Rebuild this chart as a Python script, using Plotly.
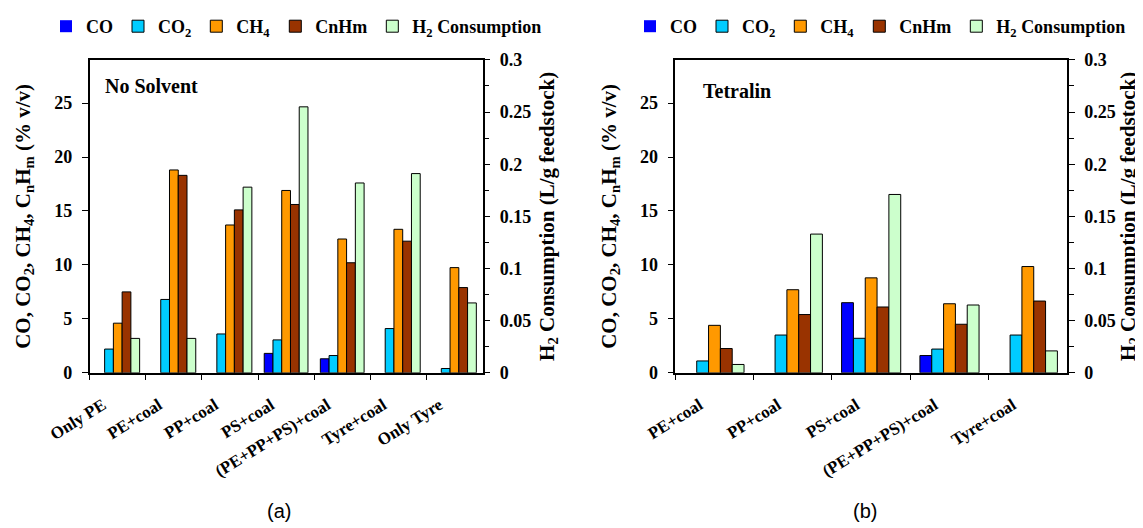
import plotly.graph_objects as go

# ---------------- data ----------------
series_names = ["CO", "CO<sub>2</sub>", "CH<sub>4</sub>", "CnHm", "H<sub>2</sub> Consumption"]
series_colors = ["#0000FF", "#00CCFF", "#FF9900", "#993300", "#CCFFCC"]

cats_a = ["Only PE", "PE+coal", "PP+coal", "PS+coal", "(PE+PP+PS)+coal", "Tyre+coal", "Only Tyre"]
co_a = [0, 0, 0, 1.8, 1.3, 0, 0]
co2_a = [2.2, 6.8, 3.6, 3.05, 1.6, 4.1, 0.4]
ch4_a = [4.6, 18.8, 13.7, 16.9, 12.4, 13.3, 9.75]
cnhm_a = [7.5, 18.3, 15.1, 15.6, 10.2, 12.2, 7.9]
h2_a = [0.033, 0.033, 0.178, 0.255, 0.182, 0.191, 0.067]

cats_b = ["PE+coal", "PP+coal", "PS+coal", "(PE+PP+PS)+coal", "Tyre+coal"]
co_b = [0, 0, 6.5, 1.6, 0]
co2_b = [1.1, 3.5, 3.2, 2.2, 3.5]
ch4_b = [4.4, 7.7, 8.8, 6.4, 9.85]
cnhm_b = [2.25, 5.4, 6.1, 4.5, 6.65]
h2_b = [0.008, 0.133, 0.171, 0.065, 0.021]

left_ticks = [0, 5, 10, 15, 20, 25]
right_ticks = [0, 0.05, 0.1, 0.15, 0.2, 0.25, 0.3]

# ---------------- layout helpers ----------------
W, H = 1143, 528
SERIF = "Liberation Serif"

def px_x(p):
    return p / W

def px_y(p):
    return 1 - p / H

fig = go.Figure()

def add_panel(cats, series, xa, ya, ya2, legend, width):
    offsets = [-2.5 * width + i * width for i in range(5)]
    for i, vals in enumerate(series):
        line_w = [1 if v > 0 else 0 for v in vals]
        fig.add_trace(go.Bar(
            x=cats, y=vals, name=series_names[i],
            marker=dict(color=series_colors[i], line=dict(color="#000000", width=line_w)),
            width=width, offset=offsets[i],
            xaxis=xa, yaxis=(ya2 if i == 4 else ya),
            legend=legend, showlegend=True,
        ))

add_panel(cats_a, [co_a, co2_a, ch4_a, cnhm_a, h2_a], "x", "y", "y2", "legend", 0.156)
add_panel(cats_b, [co_b, co2_b, ch4_b, cnhm_b, h2_b], "x2", "y3", "y4", "legend2", 0.151)

tickfont = dict(family=SERIF, size=18, color="#000000", weight="bold")
xtickfont = dict(family=SERIF, size=17, color="#000000", weight="bold")
titlefont = dict(family=SERIF, size=21, color="#000000", weight="bold")
ydom = [px_y(364.5), px_y(51)]

common_x = dict(type="category", tickson="boundaries", ticks="outside", ticklen=5,
                tickcolor="#000000", showline=True, linecolor="#000000", linewidth=1.5,
                mirror=True, showgrid=False, tickangle=-32, tickfont=xtickfont,
                ticklabelstandoff=14, ticklabelshift=-15, automargin=False)
common_yl = dict(range=[0, 29], tickvals=left_ticks, ticks="outside", ticklen=6,
                 tickcolor="#000000", showline=True, linecolor="#000000", linewidth=1.5,
                 showgrid=False, zeroline=False, tickfont=tickfont, ticklabelstandoff=6,
                 automargin=False,
                 title=dict(text="CO, CO<sub>2</sub>, CH<sub>4</sub>, C<sub>n</sub>H<sub>m</sub> (% v/v)",
                            font=titlefont, standoff=18))

def right_axis(standoff):
    return dict(range=[0, 0.3], tickvals=right_ticks, ticks="outside", ticklen=6,
                tickcolor="#000000", showline=True, linecolor="#000000", linewidth=1.5,
                showgrid=False, zeroline=False, tickfont=tickfont, ticklabelstandoff=6,
                side="right", automargin=False,
                minor=dict(dtick=0.025, ticks="outside", ticklen=5, tickcolor="#000000"),
                title=dict(text="H<sub>2</sub> Consumption (L/g feedstock)",
                           font=titlefont, standoff=standoff))

legend_common = dict(orientation="h", font=dict(family=SERIF, size=18, color="#000000", weight="bold"),
                     yanchor="middle", xanchor="left", bgcolor="rgba(0,0,0,0)",
                     traceorder="normal", itemclick=False)

fig.update_layout(
    width=W, height=H,
    margin=dict(l=0, r=0, t=0, b=0),
    paper_bgcolor="white", plot_bgcolor="white",
    barmode="overlay",
    xaxis=dict(domain=[px_x(81.7), px_x(474.5)], anchor="y", **common_x),
    yaxis=dict(domain=ydom, anchor="x", **common_yl),
    yaxis2=dict(domain=ydom, anchor="x", overlaying="y", **right_axis(9)),
    xaxis2=dict(domain=[px_x(667.3), px_x(1059)], anchor="y3", **common_x),
    yaxis3=dict(domain=ydom, anchor="x2", **common_yl),
    yaxis4=dict(domain=ydom, anchor="x2", overlaying="y3", **right_axis(1)),
    legend=dict(x=px_x(38), y=px_y(18), **legend_common),
    legend2=dict(x=px_x(622), y=px_y(18), **legend_common),
    annotations=[
        dict(text="No Solvent", x=px_x(95), y=px_y(76.7), xref="paper", yref="paper",
             xanchor="left", yanchor="middle", showarrow=False,
             font=dict(family=SERIF, size=20, color="#000000", weight="bold")),
        dict(text="Tetralin", x=px_x(693), y=px_y(81.7), xref="paper", yref="paper",
             xanchor="left", yanchor="middle", showarrow=False,
             font=dict(family=SERIF, size=20, color="#000000", weight="bold")),
        dict(text="(a)", x=px_x(271), y=px_y(503), xref="paper", yref="paper",
             xanchor="center", yanchor="middle", showarrow=False,
             font=dict(family="Liberation Sans", size=20, color="#000000")),
        dict(text="(b)", x=px_x(857), y=px_y(503), xref="paper", yref="paper",
             xanchor="center", yanchor="middle", showarrow=False,
             font=dict(family="Liberation Sans", size=20, color="#000000")),
    ],
)

fig.write_html("out.html")
